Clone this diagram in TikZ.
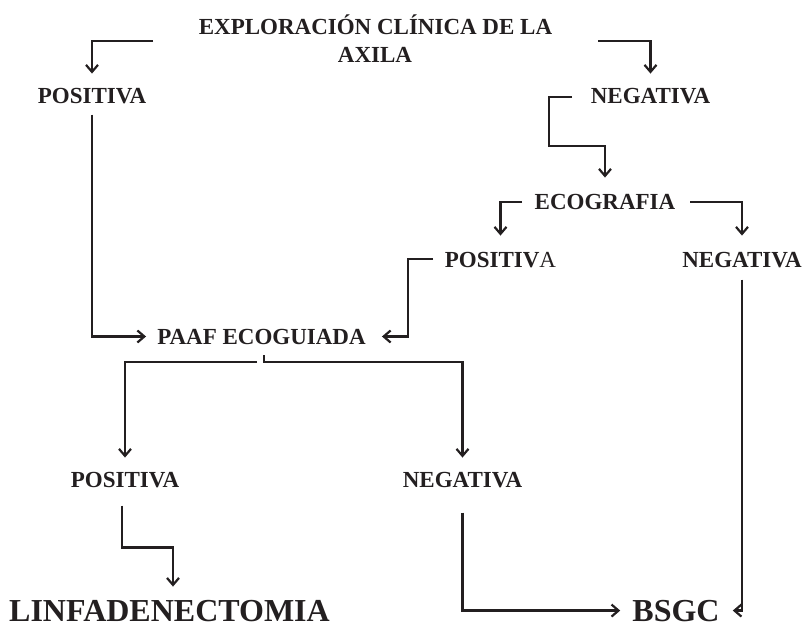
\documentclass[tikz,border=0pt]{standalone}
\usepackage{fontspec}
\setmainfont{Liberation Serif}
\usetikzlibrary{arrows.meta}
\definecolor{ink}{HTML}{231F20}
\begin{document}
\begin{tikzpicture}[x=1pt,y=-1pt,
  lab/.style={inner sep=0pt, anchor=base, text=ink, font=\fontsize{23}{27}\selectfont\bfseries},
  big/.style={inner sep=0pt, anchor=base, text=ink, font=\fontsize{32}{36}\selectfont\bfseries},
  conn/.style={draw=ink, line width=2.2pt, -{Straight Barb[length=7pt,width=12pt]}}]
\useasboundingbox (0,0) rectangle (806,626);
% nodes
\node[lab] (T1) at (375.5,35) {EXPLORACIÓN CLÍNICA DE LA};
\node[lab] (T2) at (375,63) {AXILA};
\node[lab] (P1) at (92,103) {POSITIVA};
\node[lab] (N1) at (650.5,103) {NEGATIVA};
\node[lab] (E) at (605,209) {ECOGRAFIA};
\node[lab] (P2) at (500.5,267) {POSITIV{\mdseries A}};
\node[lab] (N2) at (742,267) {NEGATIVA};
\node[lab] (PA) at (261.5,344) {PAAF ECOGUIADA};
\node[lab] (P3) at (125,487) {POSITIVA};
\node[lab] (N3) at (462.5,487) {NEGATIVA};
\node[big] (L) at (169.5,621) {LINFADENECTOMIA};
\node[big] (B) at (676,621) {BSGC};
% start coordinates
\coordinate (c1) at (153,41);
\coordinate (c2) at (598,41);
\coordinate (c3) at (572,97);
\coordinate (c4) at (522,202);
\coordinate (c5) at (690,202);
\coordinate (c6) at (433,259);
\coordinate (k) at (264,362);
% connectors
\draw[conn] (c1) -| ([yshift=14pt]P1.north);
\draw[conn] (c2) -| ([yshift=14pt]N1.north);
\draw[conn] (c3) -- ++(-23,0) -- ++(0,49) -| ([yshift=16pt]E.north);
\draw[conn] (c4) -| ([yshift=16pt]P2.north);
\draw[conn] (c5) -| ([yshift=16pt]N2.north);
\draw[conn] (c6) -- ++(-25,0) |- ([xshift=16pt]PA.east);
\draw[conn] ([yshift=-11pt]P1.south) |- ([xshift=-11pt]PA.west);
\draw[conn] ([xshift=2.5pt,yshift=-11pt]PA.south) -- (k) -| ([yshift=14pt]N3.north);
\draw[conn] ([xshift=-7pt]k) -| ([yshift=14pt]P3.north);
\draw[conn] ([xshift=-3pt,yshift=-18pt]P3.south) -- ++(0,42) -| ([xshift=3.5pt,yshift=13pt]L.north);
\draw[conn] ([yshift=-25pt]N3.south) |- ([xshift=-12pt]B.west);
\draw[conn] ([yshift=-12pt]N2.south) |- ([xshift=13pt]B.east);
\end{tikzpicture}
\end{document}
